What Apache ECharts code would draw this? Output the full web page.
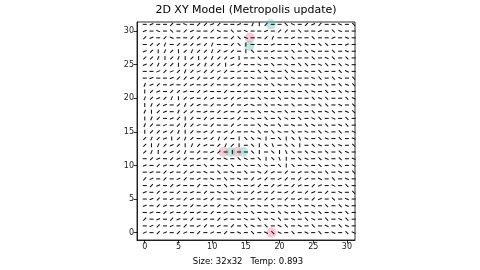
<!DOCTYPE html>
<html><head><meta charset="utf-8">
<script src="https://cdn.jsdelivr.net/npm/echarts@6/dist/echarts.min.js"></script>
<style>html,body{margin:0;padding:0;background:#fff}#c{width:480px;height:270px}</style>
</head><body><div id="c"></div>
<script>
// Spin orientation codes, one string per row, from y=31 (top) to y=0 (bottom), columns x=0..31
var angleCodes = {'-':0,'a':22,'/':45,'b':67,'|':90,'c':112,'x':135,'d':157};
var spinRows = [
"-a--/-d-//a/--a-b|/--xd-/a/--d-x",
"a-d-x-/a--/d-x-d--a-//-x--a-xd--",
"/a-/d--//--a-/xd--/b--a--x--a-d-",
"-//b-/a/a/b--/x|---a---xd-xx--a-",
"a/|b/|/b//b/a/-|x--a--x-xd--x-d-",
"//b|/b|/|/b//a|--x-d-xx--x-dx-x-",
"a/b//|/a/b//|a/--d-x-d-xx-dx-xd-",
"--a/a/b/a//a/-a--x-d-xd-d-x--xd-",
"-a--a//a/-a/-a--d-x--xd--dx-xd-x",
"ba/-a-/a-a/--a/--d-xd--x-d-x-xdx",
"|/a-//a-/a--/--a-d--x-d-xd-x-xd-",
"b/a/b|/a-/a-a/a--xd-x-d--xdx--xd",
"|b/a-/b/a-/-a/-ad-x-d-x-d-xx-d-x",
"b|/a-b//-a-/a-/--x-d-x-d-x-dx-dx",
"|b/-a/|/-/a--a/-d-x-xd-x-dx-d-x-",
"b/-a-/b/a-/--/a--xd-x-d-xd-x-dx-",
"|//a/b|/-a/-a/--dx-xd-x-d-xd-x-d",
"/b/a|/b/-a/b/-|xxd|-x|xcd-xd-x-d",
"/|b/a/|b/a-/b/|-x|xc-xx|-xd-xd-x",
"/b|/a/b-/-a/-|--x|-x|cx-xd-x-xd-",
"-/a-/a/-a-/-d-xd-x|xc|-xd-xd-x-d",
"a-/a-/-a-x-d-x-d-xd-x|x-d-x-dx-d",
"-a-/a-/a-d-x-d-x-d/a-/-a-d-x-d-x",
"/a-/-a/-a-d-x-d-/a/-a/-/a-d-x-d-",
"-/a-/a--/-d-x-d-a/-/a-/a-/a-d-x-",
"a-/a-/-a-/-d-x--/a-/-a/-/a-/-d-x",
"-a/-a-/a-a/-d-/-a-/a-/-a-/a-x-d-",
"a-/a-a-/-a-/-d-x-d-x-d-x-d-x-xd-",
"-a-/a-/-a-/-a-d-x-d-xd-x-dx-d-x-",
"/-a-/a-/-a-/a--d-x-dx-d-xd-x-dx-",
"-a/-a-/-a/-a-/-xd-x-dx-d-x-d-xd-",
"a-/a-/a-/-a-/-d-x-dxd-x-d-x-d-xd"
];
var positiveVortices = [[15.6,29],[11.7,12],[13.6,12],[18.8,0]];
var negativeVortices = [[15.5,27.8],[18.7,31],[12.7,12],[14.6,12]];
var tickValues = [0,5,10,15,20,25,30];
var titleText = '2D XY Model (Metropolis update)';
var footText = 'Size: 32x32   Temp: 0.893';

var spinData = [];
for (var r = 0; r < spinRows.length; r++) {
  var y = spinRows.length - 1 - r;
  for (var x = 0; x < spinRows[r].length; x++) {
    spinData.push([x, y, angleCodes[spinRows[r].charAt(x)]]);
  }
}

var chart = echarts.init(document.getElementById('c'), null, {renderer:'canvas'});
var font = 'DejaVu Sans';
var axisCommon = {
  type:'value', interval:5,
  axisLine:{show:true,onZero:false,lineStyle:{color:'#000',width:0.8}},
  axisTick:{show:true,length:3.5,inside:false,customValues:tickValues,lineStyle:{color:'#000',width:0.8}},
  axisLabel:{customValues:tickValues,color:'#222',fontFamily:font,fontSize:8,margin:3},
  splitLine:{show:false}
};
chart.setOption({
  animation:false,
  backgroundColor:'#fff',
  grid:{left:137,right:125,top:22,bottom:30,show:true,borderColor:'#000',borderWidth:0.8,backgroundColor:'transparent'},
  xAxis:Object.assign({}, axisCommon, {min:-1.15, max:31.2}),
  yAxis:Object.assign({}, axisCommon, {min:-1.1, max:31.35}),
  graphic:[
    {type:'text', x:246, y:10, style:{text:titleText, font:'11px "DejaVu Sans"', fill:'#000', textAlign:'center', textVerticalAlign:'middle'}},
    {type:'text', x:248, y:262, style:{text:footText, font:'8.5px "DejaVu Sans"', fill:'#000', textAlign:'center', textVerticalAlign:'middle'}}
  ],
  series:[
    {type:'scatter', data:positiveVortices, symbol:'circle', symbolSize:10, itemStyle:{color:'rgba(240,120,150,0.5)'}, silent:true, z:1},
    {type:'scatter', data:negativeVortices, symbol:'circle', symbolSize:10, itemStyle:{color:'rgba(110,200,185,0.55)'}, silent:true, z:1},
    {type:'custom', data:spinData, z:2, silent:true,
     renderItem:function(params, api){
       var p = api.coord([api.value(0), api.value(1)]);
       var ang = api.value(2) * Math.PI / 180;
       var L = api.size([1,0])[0] * 0.3;
       var dx = Math.cos(ang) * L, dy = -Math.sin(ang) * L;
       return {type:'line', shape:{x1:p[0]-dx, y1:p[1]-dy, x2:p[0]+dx, y2:p[1]+dy}, style:{stroke:'#111', lineWidth:1.05}};
     }}
  ]
});
</script></body></html>
